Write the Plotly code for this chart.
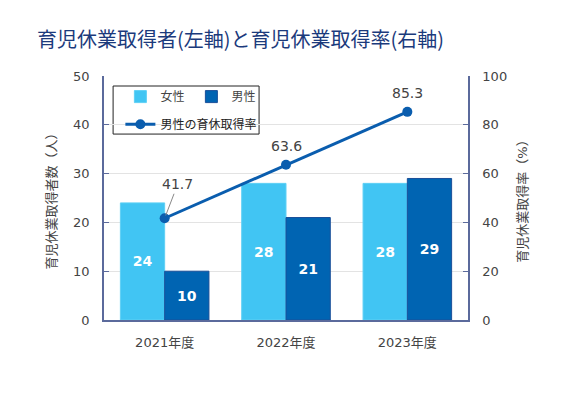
import plotly.graph_objects as go

categories = ["2021年度", "2022年度", "2023年度"]
female = [24, 28, 28]
male = [10, 21, 29]
male_rate = [41.7, 63.6, 85.3]
left_ticks = [0, 10, 20, 30, 40, 50]
right_ticks = [0, 20, 40, 60, 80, 100]

LIGHT = "#41C5F3"
DARK = "#0064B2"
LINE = "#0A5DAE"
AXIS = "#5B6A9C"
TXT = "#444444"
FONT = "DejaVu Sans, Noto Sans CJK JP, sans-serif"

fig = go.Figure()
fig.add_trace(go.Bar(
    x=categories, y=female, name="女性",
    marker=dict(color=LIGHT, line=dict(color="#5FD0F5", width=1)),
    text=[str(v) for v in female], textposition="inside", insidetextanchor="middle",
    textfont=dict(color="white", size=14, family="DejaVu Sans", weight="bold"),
    legend="legend",
))
fig.add_trace(go.Bar(
    x=categories, y=male, name="男性",
    marker=dict(color=DARK, line=dict(color="#1A4F99", width=1)),
    text=[str(v) for v in male], textposition="inside", insidetextanchor="middle",
    textfont=dict(color="white", size=14, family="DejaVu Sans", weight="bold"),
    legend="legend",
))
fig.add_trace(go.Scatter(
    x=categories, y=male_rate, name="男性の育休取得率", yaxis="y2",
    mode="lines+markers",
    line=dict(color=LINE, width=3),
    marker=dict(color=LINE, size=10),
    legend="legend2",
))

annotations = []
for i, (c, v) in enumerate(zip(categories, male_rate)):
    if i == 0:
        annotations.append(dict(
            x=c, y=v, xref="x", yref="y2", text=f"{v}", showarrow=True,
            arrowhead=0, arrowwidth=1, arrowcolor="#888888", ax=13, ay=-34,
            font=dict(size=14, color=TXT, family=FONT), standoff=3,
        ))
    else:
        annotations.append(dict(
            x=c, y=v, xref="x", yref="y2", text=f"{v}", showarrow=False,
            yshift=19, font=dict(size=14, color=TXT, family=FONT),
        ))

fig.update_layout(
    width=570, height=408,
    margin=dict(l=96, r=110, t=68, b=96, autoexpand=False),
    paper_bgcolor="white", plot_bgcolor="white",
    font=dict(family=FONT, color=TXT, size=13),
    title=dict(
        text="育児休業取得者(左軸)と育児休業取得率(右軸)",
        x=29 / 570, xanchor="left", xref="container",
        y=1 - 32 / 408, yanchor="middle", yref="container",
        font=dict(size=20, color="#1B3A7C", family="Noto Sans CJK JP"),
    ),
    barmode="group", bargap=0.27, bargroupgap=0,
    showlegend=True,
    legend=dict(
        orientation="h", x=0.045, y=0.975, xanchor="left", yanchor="top",
        bgcolor="rgba(0,0,0,0)", font=dict(size=12, color=TXT, family=FONT),
        entrywidth=26, entrywidthmode="pixels", itemwidth=30,
    ),
    legend2=dict(
        orientation="h", x=0.045, y=0.862, xanchor="left", yanchor="top",
        bgcolor="rgba(0,0,0,0)", font=dict(size=12, color="#222222", family=FONT),
        itemwidth=30,
    ),
    xaxis=dict(
        showline=True, linecolor=AXIS, linewidth=1.5, mirror=False, automargin=False,
        tickfont=dict(size=13, color=TXT), ticks="", ticklabelstandoff=10,
    ),
    yaxis=dict(
        range=[0, 50], tickvals=left_ticks, showline=True, linecolor=AXIS, linewidth=1.5,
        ticks="inside", ticklen=5, tickcolor=AXIS, automargin=False,
        showgrid=True, gridcolor="#E3E3E3", gridwidth=1, zeroline=False,
        tickfont=dict(size=13, color=TXT), ticklabelstandoff=10,
        title=dict(text="育児休業取得者数（人）", font=dict(size=13, color=TXT), standoff=14),
    ),
    yaxis2=dict(
        range=[0, 100], tickvals=right_ticks, overlaying="y", side="right",
        showline=True, linecolor=AXIS, linewidth=1.5, automargin=False,
        ticks="inside", ticklen=5, tickcolor=AXIS, showgrid=False, zeroline=False,
        tickfont=dict(size=13, color=TXT), ticklabelstandoff=10,
        title=dict(text="育児休業取得率（%）", font=dict(size=13, color=TXT), standoff=12),
    ),
    annotations=annotations,
    shapes=[dict(
        type="rect", xref="paper", yref="paper", x0=0.025, x1=0.426, y0=0.762, y1=0.959,
        line=dict(color="#222222", width=1), fillcolor="white", layer="below",
    )],
)

fig.write_html("out.html")
